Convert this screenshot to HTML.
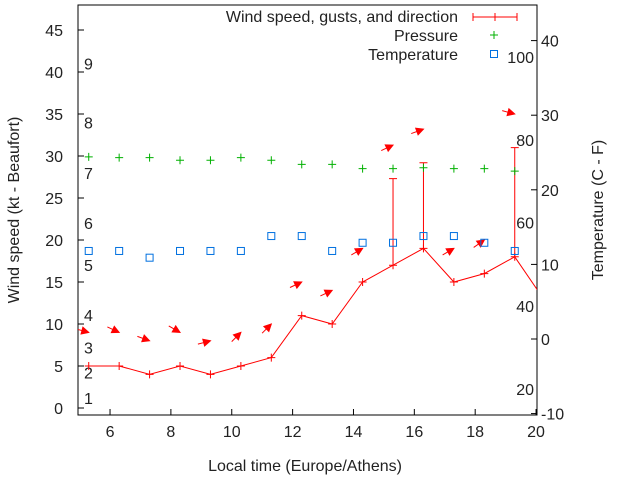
<!DOCTYPE html>
<html><head><meta charset="utf-8"><style>
body{margin:0;background:#fff}
svg{display:block;font-family:"Liberation Sans",sans-serif}
</style></head><body>
<svg id="chart" width="640" height="480">
<g id="g"></g>
</svg>
<script>
const times=[5.3,6.3,7.3,8.3,9.3,10.3,11.3,12.3,13.3,14.3,15.3,16.3,17.3,18.3,19.3,20.3];
const windSpeed=[5,5,4,5,4,5,6,11,10,15,17,19,15,16,18,12.7];
const gusts=[null,null,null,null,null,null,null,null,null,null,27.3,29.2,null,null,31,null];
const windFrom=[285,295,290,300,255,225,225,245,245,240,245,250,240,235,285];
const pressure=[29.9,29.8,29.8,29.5,29.5,29.8,29.5,29.0,29.0,28.5,28.5,28.6,28.5,28.5,28.2];
const temperature=[11.8,11.8,10.9,11.8,11.8,11.8,13.8,13.8,11.8,12.9,12.9,13.8,13.8,12.9,11.8];
const xTicks=[6,8,10,12,14,16,18,20];
const yTicks=[0,5,10,15,20,25,30,35,40,45];
const y2Ticks=[-10,0,10,20,30,40];
const beaufortLabels=[[1,1.2],[2,4.2],[3,7.2],[4,11.1],[5,17],[6,22],[7,28],[8,34],[9,41]];
const fahrLabels=[[20,-6.7],[40,4.4],[60,15.6],[80,26.7],[100,37.8]];

const L=78,R=537,T=5,B=415,FS=16;
const X=v=>79.6+(v-5)*30.43;
const Y=v=>408-v*8.4;
const Y2=v=>339-v*7.46;
const NS='http://www.w3.org/2000/svg';
const g=document.getElementById('g');
function mk(tag,attrs,txt){const e=document.createElementNS(NS,tag);for(const k in attrs)e.setAttribute(k,attrs[k]);if(txt!==undefined)e.textContent=txt;g.appendChild(e);return e;}

const defs=mk('defs',{});
const cp=document.createElementNS(NS,'clipPath');cp.setAttribute('id','clip');
const cr=document.createElementNS(NS,'rect');cr.setAttribute('x',L);cr.setAttribute('y',T);cr.setAttribute('width',R-L);cr.setAttribute('height',B-T);
cp.appendChild(cr);defs.appendChild(cp);

let e=mk('rect',{x:L,y:T,width:R-L,height:B-T,fill:'none',stroke:'#000','stroke-width':1});



xTicks.forEach(t=>{
 let l=mk('line',{x1:X(t),x2:X(t),y1:B,y2:B-6,stroke:'#000'});
 
 
 let tx=mk('text',{x:X(t),y:B+22,'text-anchor':'middle','font-size':FS,fill:'#222'},t);
 
 
});
yTicks.forEach(t=>{
 let l=mk('line',{x1:L,x2:L+6,y1:Y(t),y2:Y(t),stroke:'#000'});
 
 
 let tx=mk('text',{x:L-15,y:Y(t)+6,'text-anchor':'end','font-size':FS,fill:'#222'},t);
 
 
});
y2Ticks.forEach(t=>{
 let l=mk('line',{x1:R,x2:R-6,y1:Y2(t),y2:Y2(t),stroke:'#000'});
 
 
 let tx=mk('text',{x:R+4,y:Y2(t)+6,'text-anchor':'start','font-size':FS,fill:'#222'},t);
 
 
});
beaufortLabels.forEach(b=>{
 let tx=mk('text',{x:84,y:Y(b[1])+6,'font-size':FS,fill:'#222'},b[0]);
 
 
});
fahrLabels.forEach(b=>{
 let tx=mk('text',{x:534,y:Y2(b[1])+6,'text-anchor':'end','font-size':FS,fill:'#222'},b[0]);
 
 
});
e=mk('text',{x:305,y:471,'text-anchor':'middle','font-size':FS,fill:'#222'},'Local time (Europe/Athens)');


e=mk('text',{x:19,y:210,'text-anchor':'middle','font-size':FS,fill:'#222',transform:'rotate(-90 19 210)'},'Wind speed (kt - Beaufort)');


e=mk('text',{x:603,y:210,'text-anchor':'middle','font-size':FS,fill:'#222',transform:'rotate(-90 603 210)'},'Temperature (C - F)');



const pg=document.createElementNS(NS,'g');pg.setAttribute('clip-path','url(#clip)');g.appendChild(pg);
function pk(tag,attrs){const el=document.createElementNS(NS,tag);for(const k in attrs)el.setAttribute(k,attrs[k]);pg.appendChild(el);return el;}

let pts=times.map((t,i)=>X(t)+','+Y(windSpeed[i])).join(' ');
e=pk('polyline',{points:pts,fill:'none',stroke:'#f00','stroke-width':1});


times.forEach((t,i)=>{
 const x=X(t),y=Y(windSpeed[i]);
 let p=pk('path',{d:`M${x-4},${y}H${x+4}M${x},${y-4}V${y+4}`,stroke:'#f00'});
 
 
 if(gusts[i]!=null){
  const yg=Y(gusts[i]);
  let gb=pk('path',{d:`M${x},${y}V${yg}M${x-4},${yg}H${x+4}`,stroke:'#f00'});
  
  
 }
});
windFrom.forEach((d,i)=>{
 const top=Math.max(windSpeed[i],gusts[i]||0)+4;
 const x=X(times[i]),y=Y(top);
 const b=(d+180)*Math.PI/180;
 const ux=Math.sin(b),uy=-Math.cos(b);
 const sx=x-13*ux,sy=y-13*uy;
 const h1x=x-7*ux+3.5*uy,h1y=y-7*uy-3.5*ux,h2x=x-7*ux-3.5*uy,h2y=y-7*uy+3.5*ux;
 let a=pk('path',{d:`M${sx},${sy}L${x},${y}M${x},${y}L${h1x},${h1y}L${h2x},${h2y}Z`,stroke:'#f00',fill:'#f00'});
 
 
});
pressure.forEach((v,i)=>{
 const x=X(times[i]),y=Y(v);
 let p=pk('path',{d:`M${x-4},${y}H${x+4}M${x},${y-4}V${y+4}`,stroke:'#00b000'});
 
 
});
temperature.forEach((v,i)=>{
 const x=X(times[i]),y=Y2(v);
 let p=pk('rect',{x:x-3.5,y:y-3.5,width:7,height:7,fill:'none',stroke:'#0070e0'});
 
 
});

e=mk('text',{x:458,y:22,'text-anchor':'end','font-size':FS,fill:'#222'},'Wind speed, gusts, and direction');


e=mk('path',{d:'M473,17H517M473,13V21M517,13V21M495,13V21',stroke:'#f00'});


e=mk('text',{x:458,y:41,'text-anchor':'end','font-size':FS,fill:'#222'},'Pressure');


e=mk('path',{d:'M490,35H498M494,31V39',stroke:'#00b000'});


e=mk('text',{x:458,y:60,'text-anchor':'end','font-size':FS,fill:'#222'},'Temperature');


e=mk('rect',{x:490.5,y:50.5,width:7,height:7,fill:'none',stroke:'#0070e0'});


</script>
</body></html>
